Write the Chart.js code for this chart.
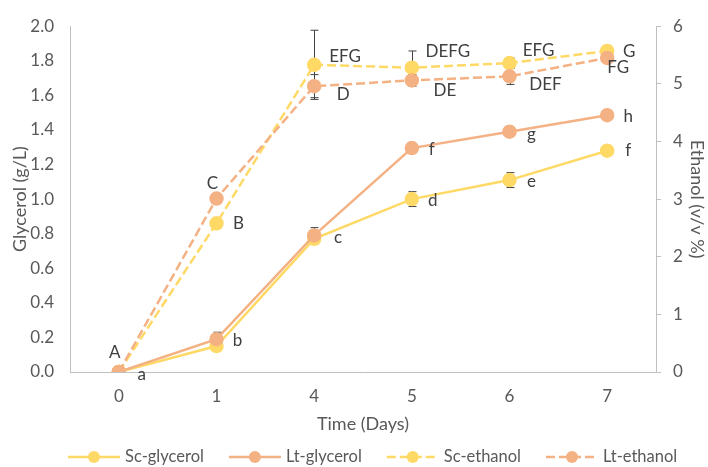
<!DOCTYPE html>
<html><head>
<meta charset="utf-8">
<script src="https://cdn.jsdelivr.net/npm/chart.js@4.4.1/dist/chart.umd.min.js"></script>
<style>
  html, body { margin: 0; padding: 0; background: #fff; }
</style>
</head>
<body>
<canvas id="myChart" width="708" height="467"></canvas>
<script>
// days sampled (shown as evenly spaced categories)
var days = ['0', '1', '4', '5', '6', '7'];

// glycerol, g/L (left axis)
var scGlycerol = [0, 0.15, 0.77, 1.00, 1.11, 1.28];
var ltGlycerol = [0, 0.19, 0.79, 1.295, 1.39, 1.485];
var scGlycerolErr = [0.005, 0.02, 0.03, 0.043, 0.043, 0.01];
var ltGlycerolErr = [0.005, 0.04, 0.045, 0.01, 0.01, 0.01];

// ethanol, v/v % (right axis)
var scEthanol = [0, 2.58, 5.33, 5.28, 5.36, 5.57];
var ltEthanol = [0, 3.01, 4.96, 5.06, 5.13, 5.45];
var scEthanolErr = [0.03, 0.05, 0.6, 0.29, 0.09, 0.05];
var ltEthanolErr = [0.03, 0.05, 0.2, 0.1, 0.14, 0.05];

// significance letters
var scGlycerolLetters = ['', '', '', 'd', 'e', 'f'];
var ltGlycerolLetters = ['a', 'b', 'c', 'f', 'g', 'h'];
var scEthanolLetters = ['A', 'B', 'EFG', 'DEFG', 'EFG', 'G'];
var ltEthanolLetters = ['', 'C', 'D', 'DE', 'DEF', 'FG'];

var yellow = '#FFD966';
var orange = '#F4B183';
var textGrey = '#595959';
var axisGrey = '#BFBFBF';
var fontFam = 'Lato, "Open Sans", sans-serif';

// where each letter sits relative to its point
var letterOffsets = [
  [[0,0],[0,0],[0,0],[21,1],[22,1],[21,0]],
  [[23,3],[21,1],[24,2],[20,1],[22,3],[21,1]],
  [[-4,-19],[22,0],[31,-8],[36,-16],[29,-13],[22,1]],
  [[0,0],[-4,-15],[29,8],[33,10],[36,8],[11,10]]
];

Chart.defaults.font.family = fontFam;
Chart.defaults.font.size = 17;
Chart.defaults.color = textGrey;

var errorBars = {
  id: 'errorBars',
  beforeDatasetsDraw: function(chart) {
    var ctx = chart.ctx;
    var xs = chart.scales.x;
    ctx.save();
    ctx.strokeStyle = '#404040';
    ctx.lineWidth = 1;
    chart.data.datasets.forEach(function(ds) {
      var ys = chart.scales[ds.yAxisID];
      ds.data.forEach(function(v, i) {
        var e = ds.errors[i];
        var x = Math.round(xs.getPixelForValue(i)) + 0.5;
        var top = ys.getPixelForValue(v + e);
        var bot = ys.getPixelForValue(Math.max(v - e, ys.min));
        ctx.beginPath();
        ctx.moveTo(x, top); ctx.lineTo(x, bot);
        ctx.moveTo(x - 4, top); ctx.lineTo(x + 4, top);
        if (v - e >= ys.min) { ctx.moveTo(x - 4, bot); ctx.lineTo(x + 4, bot); }
        ctx.stroke();
      });
    });
    ctx.restore();
  }
};

var letterLabels = {
  id: 'letterLabels',
  afterDatasetsDraw: function(chart) {
    var ctx = chart.ctx;
    ctx.save();
    ctx.font = '17px ' + fontFam;
    ctx.fillStyle = '#404040';
    ctx.textAlign = 'center';
    ctx.textBaseline = 'middle';
    chart.data.datasets.forEach(function(ds, d) {
      var meta = chart.getDatasetMeta(d);
      ds.letters.forEach(function(t, i) {
        if (!t) return;
        var p = meta.data[i];
        var o = letterOffsets[d][i];
        ctx.fillText(t, p.x + o[0], p.y + o[1]);
      });
    });
    ctx.restore();
  }
};

var excelLegend = {
  id: 'excelLegend',
  afterDraw: function(chart) {
    var ctx = chart.ctx;
    var y = 457;
    var x = 68;
    ctx.save();
    ctx.font = '16.5px ' + fontFam;
    ctx.textBaseline = 'middle';
    ctx.textAlign = 'left';
    chart.data.datasets.forEach(function(ds) {
      ctx.strokeStyle = ds.borderColor;
      ctx.lineWidth = 2.5;
      ctx.setLineDash(ds.borderDash || []);
      ctx.beginPath();
      ctx.moveTo(x, y); ctx.lineTo(x + 52, y);
      ctx.stroke();
      ctx.setLineDash([]);
      ctx.fillStyle = ds.backgroundColor;
      ctx.beginPath();
      ctx.arc(x + 26, y, 6, 0, Math.PI * 2);
      ctx.fill();
      ctx.fillStyle = textGrey;
      ctx.fillText(ds.label, x + 57, y);
      x += 57 + ctx.measureText(ds.label).width + 25;
    });
    ctx.restore();
  }
};

function series(label, data, errs, letters, color, axis, dashed, order) {
  return {
    label: label,
    data: data,
    errors: errs,
    letters: letters,
    yAxisID: axis,
    borderColor: color,
    backgroundColor: color,
    pointBackgroundColor: color,
    pointBorderColor: color,
    pointRadius: 6,
    pointHoverRadius: 6,
    borderWidth: 2.5,
    borderDash: dashed ? [9, 4] : [],
    tension: 0,
    fill: false,
    order: order
  };
}

var ctx = document.getElementById('myChart');
var myChart = new Chart(ctx, {
  type: 'line',
  data: {
    labels: days,
    datasets: [
      series('Sc-glycerol', scGlycerol, scGlycerolErr, scGlycerolLetters, yellow, 'y', false, 4),
      series('Lt-glycerol', ltGlycerol, ltGlycerolErr, ltGlycerolLetters, orange, 'y', false, 3),
      series('Sc-ethanol', scEthanol, scEthanolErr, scEthanolLetters, yellow, 'y2', true, 2),
      series('Lt-ethanol', ltEthanol, ltEthanolErr, ltEthanolLetters, orange, 'y2', true, 1)
    ]
  },
  options: {
    responsive: false,
    animation: false,
    layout: { padding: { top: 20, right: 0, bottom: 32, left: 0 } },
    plugins: {
      legend: { display: false },
      tooltip: { enabled: false }
    },
    scales: {
      x: {
        offset: true,
        grid: { display: false, drawTicks: false },
        border: { display: true, color: axisGrey, width: 1 },
        ticks: { padding: 14, color: textGrey },
        title: { display: true, text: 'Time (Days)', color: textGrey, font: { size: 18 }, padding: { top: 0, bottom: 0 } },
        afterFit: function(s) { s.height = 63; }
      },
      y: {
        position: 'left',
        min: 0, max: 2.0,
        grid: { display: false, drawTicks: false },
        border: { display: true, color: axisGrey, width: 1 },
        ticks: { stepSize: 0.2, padding: 16, color: textGrey,
          callback: function(v) { return v.toFixed(1); } },
        title: { display: true, text: 'Glycerol (g/L)', color: textGrey, font: { size: 18 }, padding: { top: 9, bottom: 0 } },
        afterFit: function(s) { s.width = 70; }
      },
      y2: {
        position: 'right',
        min: 0, max: 6,
        grid: { drawOnChartArea: false, drawTicks: true, tickLength: 5, color: axisGrey },
        border: { display: true, color: axisGrey, width: 1 },
        ticks: { stepSize: 1, padding: 12, color: textGrey },
        title: { display: true, text: 'Ethanol (v/v %)', color: textGrey, font: { size: 18 }, padding: { top: 0, bottom: 0 } },
        afterFit: function(s) { s.width = 52; }
      }
    }
  },
  plugins: [errorBars, letterLabels, excelLegend]
});
</script>
</body></html>
